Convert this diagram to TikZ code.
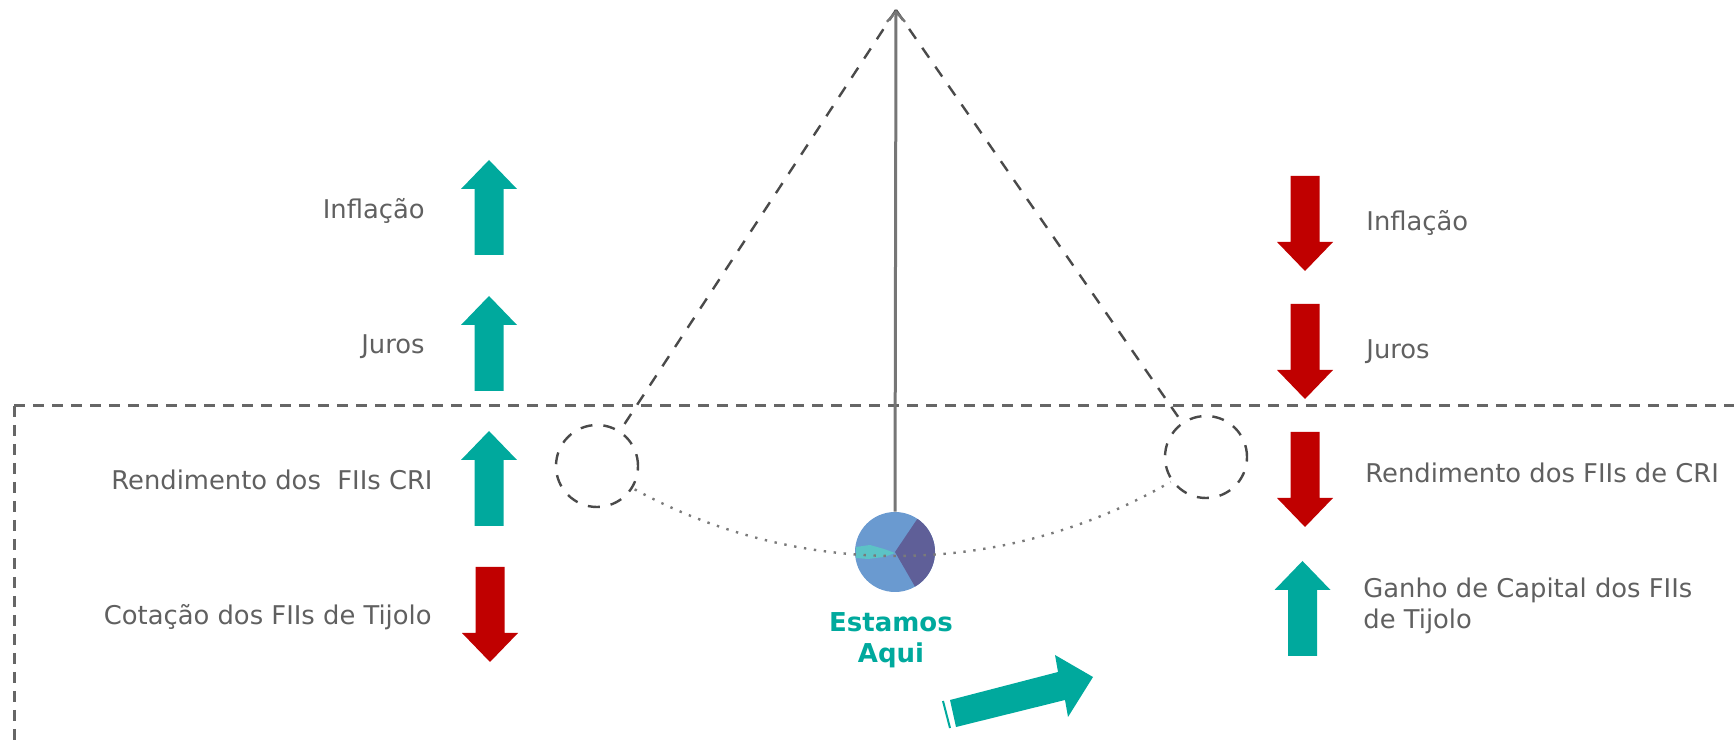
\documentclass[tikz,border=0pt]{standalone}
\usepackage{fontspec}
\setmainfont{DejaVu Sans}
\usetikzlibrary{arrows.meta,calc}
\definecolor{tealc}{HTML}{00A99D}
\definecolor{redc}{HTML}{C00000}
\definecolor{txtc}{HTML}{606060}
\definecolor{dashc}{HTML}{666666}
\definecolor{pendc}{HTML}{4A4A4A}
\definecolor{rodc}{HTML}{767676}
\definecolor{dotc}{HTML}{7A7A7A}
\definecolor{ballc}{HTML}{6A9AD0}
\definecolor{ballp}{HTML}{5F5F98}
\definecolor{ballt}{HTML}{5CC3C6}
\begin{document}
\begin{tikzpicture}[x=0.5pt,y=-0.5pt,
  lbl/.style={text=txtc,font=\fontsize{12.9}{15.5}\selectfont,inner sep=0pt},
  lblL/.style={lbl,anchor=base east},
  lblR/.style={lbl,anchor=base west},
  hereText/.style={text=tealc,font=\bfseries\fontsize{13}{15.5}\selectfont,inner sep=0pt,anchor=base},
  refline/.style={dashc,line width=1.5pt,dash pattern=on 5.5pt off 4pt},
  pendline/.style={pendc,line width=1.2pt,dash pattern=on 6pt off 5.5pt},
  ghost/.style={circle,draw=pendc,line width=1.2pt,dash pattern=on 6pt off 5.5pt,minimum size=41pt,inner sep=0pt},
  dotline/.style={dotc,line width=1.2pt,dash pattern=on 1.2pt off 3.8pt},
  uparr/.pic={\fill[tealc] (-14.5,0) -- (-14.5,-66) -- (-28,-66) -- (0,-95) -- (28,-66) -- (14.5,-66) -- (14.5,0) -- cycle;},
  downarr/.pic={\fill[redc] (-14.5,0) -- (-14.5,66) -- (-28,66) -- (0,95) -- (28,66) -- (14.5,66) -- (14.5,0) -- cycle;}
]
\useasboundingbox (0,0) rectangle (1734,747);

% reference dashed frame
\coordinate (hl) at (14,406);
\coordinate (hr) at (1734,406);
\coordinate (vb) at (14,747);
\draw[refline] (hl) -- (hr);
\draw[refline] (hl) -- (vb);

% pendulum
\coordinate (apex) at (896,10);
\node[ghost] (lc) at (597,466) {};
\node[ghost] (rc) at (1206,457) {};
\draw[pendline] (apex) -- (lc);
\draw[pendline] (apex) -- (rc);

% ball
\node[circle,fill=ballc,minimum size=40pt,inner sep=0pt] (ball) at (895,552) {};
\fill[ballp] (ball.center) -- ++(56:20pt) arc[start angle=56,end angle=-60,radius=20pt] -- cycle;
\fill[ballt] (856,547) -- (870,545) -- (884,549) -- (895,553) -- (884,557) -- (868,559) -- (856,558) -- cycle;
\draw[rodc,line width=1.5pt,-{Straight Barb[length=5pt,width=9pt,line width=1.2pt]}] (ball.north) -- (apex);

% swing arc
\coordinate (arcL) at ($(apex)+(-118.6:273pt)$);
\draw[dotline] (arcL) arc[start angle=-118.6,end angle=-59.8,radius=273pt];

\node[hereText] (est) at (891,632) {Estamos};
\node[hereText] (aqui) at (891,663) {Aqui};

% left column
\pic (la1) at (489,255) {uparr};
\pic (la2) at (489,391) {uparr};
\pic (la3) at (489,526) {uparr};
\pic (la4) at (490,567) {downarr};
\node[lblL] (l1) at (425,219) {Inflação};
\node[lblL] (l2) at (425,354) {Juros};
\node[lblL] (l3) at (433,490) {Rendimento dos~ FIIs CRI};
\node[lblL] (l4) at (432,625) {Cotação dos FIIs de Tijolo};

% right column
\pic (ra1) at (1305,176) {downarr};
\pic (ra2) at (1305,304) {downarr};
\pic (ra3) at (1305,432) {downarr};
\pic (ra4) at (1302.5,656) {uparr};
\node[lblR] (r1) at (1366,231) {Inflação};
\node[lblR] (r2) at (1366,359) {Juros};
\node[lblR] (r3) at (1365,483) {Rendimento dos FIIs de CRI};
\node[lblR] (r4) at (1363,598) {Ganho de Capital dos FIIs};
\node[lblR] (r5) at (1363,629) {de Tijolo};

% trend arrow
\fill[tealc] (950,700) -- (1058,672) -- (1055,655) -- (1093,677) -- (1068,717) -- (1065,700) -- (956,727) -- cycle;
\coordinate (tk1) at (943,701);
\coordinate (tk2) at (950,728);
\draw[tealc,line width=1pt] (tk1) -- (tk2);
\end{tikzpicture}
\end{document}
